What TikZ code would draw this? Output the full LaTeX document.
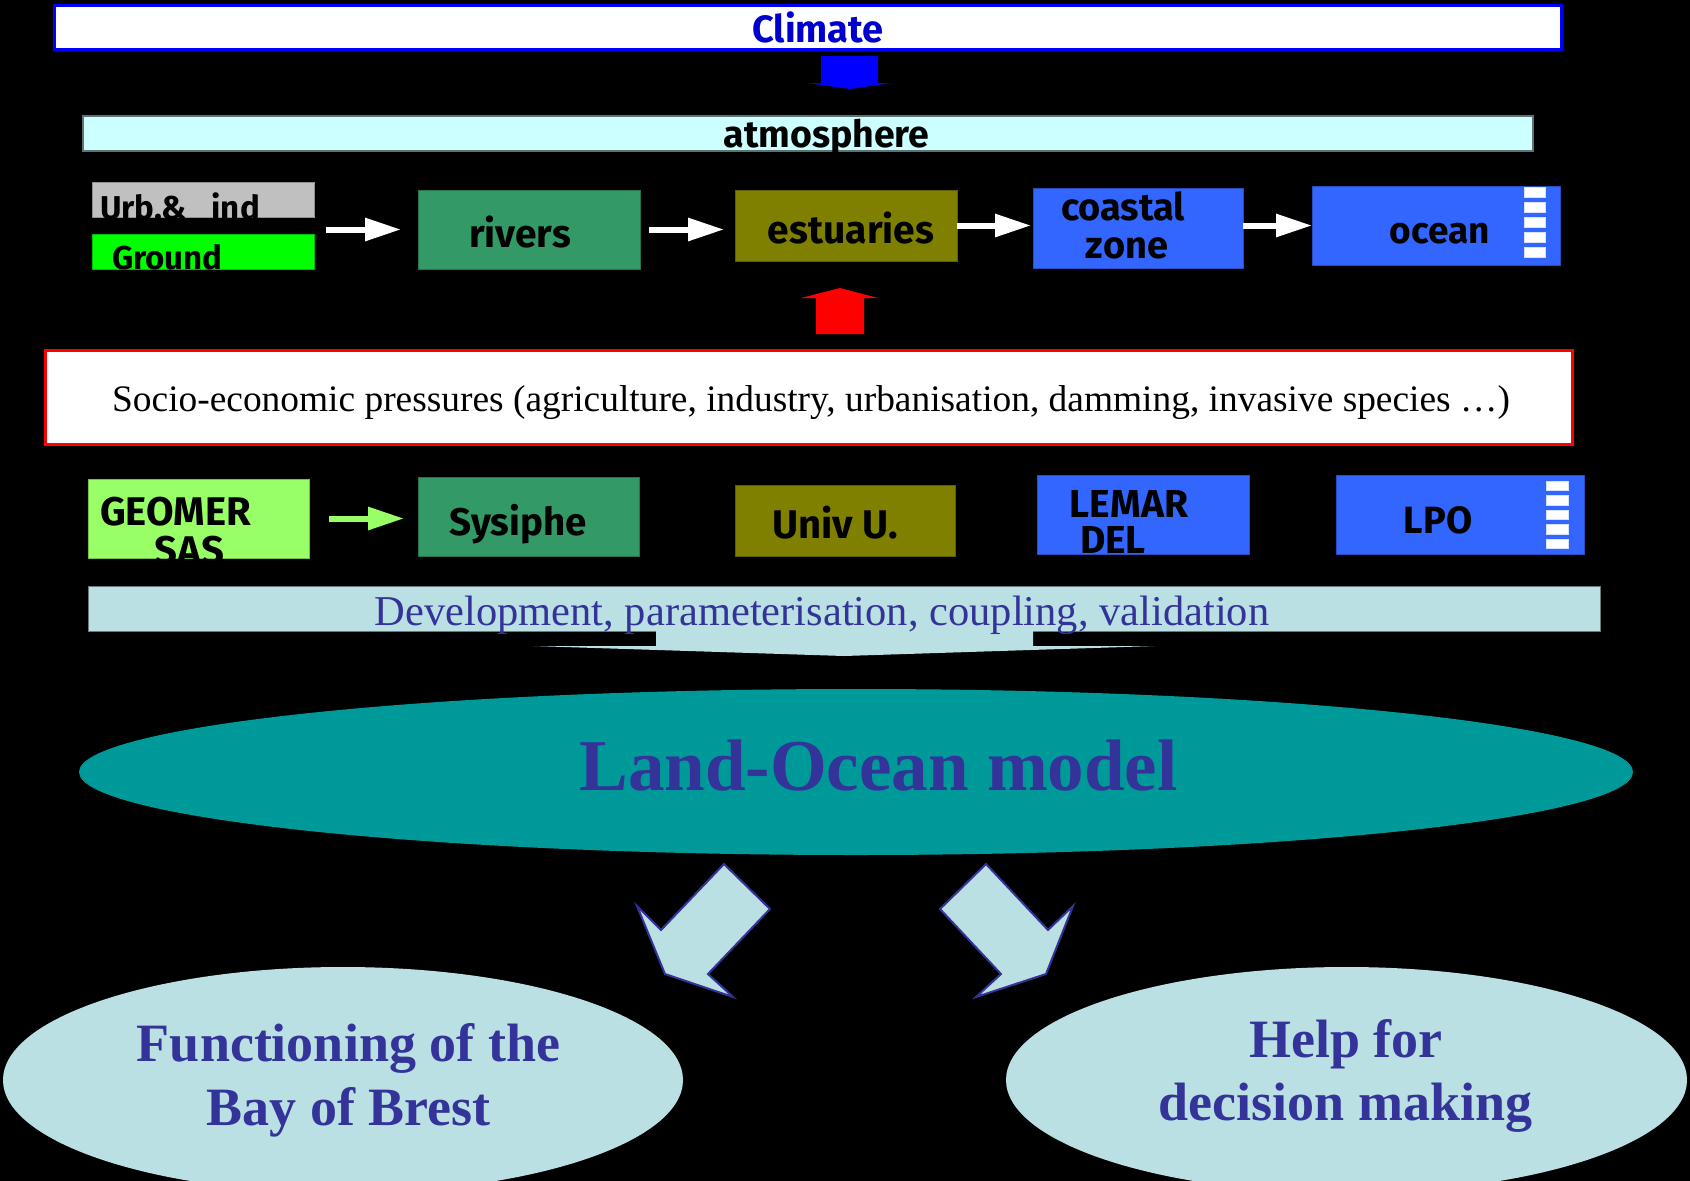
\documentclass[tikz,border=0pt]{standalone}
\usepackage{fontspec}
\setmainfont{Liberation Serif}
\newfontfamily\comic{Fira Sans}
\usetikzlibrary{arrows.meta,calc,shapes.geometric}

\definecolor{climblue}{HTML}{0000FF}
\definecolor{climtext}{HTML}{0000CC}
\definecolor{atmosfill}{HTML}{CCFFFF}
\definecolor{urbgray}{HTML}{C0C0C0}
\definecolor{groundgreen}{HTML}{00FF00}
\definecolor{rivergreen}{HTML}{339966}
\definecolor{estolive}{HTML}{808000}
\definecolor{seablue}{HTML}{3366FF}
\definecolor{limegreen}{HTML}{99FF66}
\definecolor{paleblue}{HTML}{BBE0E3}
\definecolor{modelteal}{HTML}{009999}
\definecolor{inkblue}{HTML}{333399}
\definecolor{pressred}{HTML}{FF0000}

\tikzset{
  panel/.style={rectangle, inner sep=0pt, outer sep=0pt},
  cell/.style={panel, draw=#1!75!black, line width=1pt, fill=#1},
  comictext/.style={anchor=base, inner sep=0pt, outer sep=0pt, text=black,
    font=\comic\bfseries\fontsize{#1}{#1}\selectfont},
  capsonly/.style={text height=27pt, text depth=0pt},
  serifbold/.style={anchor=base, inner sep=0pt, outer sep=0pt, text=inkblue,
    font=\bfseries\fontsize{#1}{#1}\selectfont},
  serifplain/.style={anchor=base, inner sep=0pt, outer sep=0pt,
    font=\fontsize{#1}{#1}\selectfont},
  flow/.style={draw=white, line width=6pt, -{Triangle[length=36pt,width=22pt]}},
  blockarrow/.style={fill=paleblue, draw=inkblue, line width=2pt, line join=miter},
  levels/.style={fill=white, draw=white!80!seablue, line width=0.6pt},
}

\begin{document}
\begin{tikzpicture}[x=1pt,y=-1pt]
  % page
  \fill[black] (0,0) rectangle (1690,1181);
  \useasboundingbox (0,0) rectangle (1690,1181);
  \clip (0,0) rectangle (1690,1181);

  % ---- climate forcing ----
  \node[panel, fill=white, draw=climblue, line width=3pt,
        minimum width=1507pt, minimum height=44pt] (climate) at (807.5,27) {};
  \node[comictext=38, text=climtext] (tclimate) at (818,42) {Climate};

  \fill[climblue] (821,56) -- (878,56) -- (878,83) -- (892,83) -- (850,89)
                  -- (807,83) -- (821,83) -- cycle;

  \node[panel, fill=atmosfill, draw=black!55!atmosfill, line width=1.5pt,
        minimum width=1450pt, minimum height=35pt] (atmos) at (808,133.5) {};
  \node[comictext=37.5] (tatmos) at (826.5,147) {atmosphere};

  % ---- the land--ocean continuum ----
  \node[cell=urbgray, minimum width=222pt, minimum height=35pt] (urb) at (203,199.5) {};
  \node[cell=groundgreen, minimum width=222pt, minimum height=35pt] (ground) at (203,251.5) {};
  \begin{scope}
    \clip (urb.north west) rectangle (urb.south east);
    \node[comictext=33, anchor=base west] (turb) at (100,219) {Urb.\&\_ ind};
  \end{scope}
  \begin{scope}
    \clip (ground.north west) rectangle (ground.south east);
    \node[comictext=33, anchor=base west] (tground) at (112,269) {Ground};
  \end{scope}

  \node[cell=rivergreen, minimum width=222pt, minimum height=79pt] (rivers) at (529,229.5) {};
  \node[comictext=39] (trivers) at (520,247) {rivers};

  \node[cell=estolive, minimum width=222pt, minimum height=71pt] (estuaries) at (846,225.5) {};
  \node[comictext=39] (testuaries) at (851,243) {estuaries};

  \node[cell=seablue, minimum width=210pt, minimum height=80pt] (coastal) at (1138,228) {};
  \node[comictext=38] (tcoastal) at (1123,220) {coastal};
  \node[comictext=38] (tzone) at (1127,258) {zone};

  \node[cell=seablue, minimum width=248pt, minimum height=79pt] (ocean) at (1436,225.5) {};
  \node[comictext=37] (tocean) at (1440,243) {ocean};
  \foreach \k in {0,...,4}
    \path[levels] (1524,187+15*\k) rectangle (1545,197+15*\k);

  \draw[flow, shorten <=12pt, shorten >=17pt] (ground.east |- rivers.west) -- (rivers.west);
  \draw[flow, shorten <=9pt, shorten >=11pt] (rivers.east) -- (rivers.east -| estuaries.west);
  \draw[flow, shorten >=2pt] (estuaries.east) -- (estuaries.east -| coastal.west);
  \draw[flow] (ocean.west -| coastal.east) -- (ocean.west);

  % ---- pressures ----
  \fill[pressred] (816,334) -- (816,298) -- (801,298) -- (840,288) -- (878,298)
                  -- (864,298) -- (864,334) -- cycle;

  \node[panel, fill=white, draw=pressred, line width=3pt,
        minimum width=1527pt, minimum height=94pt] (socio) at (808.5,397) {};
  \node[serifplain=37.4] (tsocio) at (811,411)
    {Socio-economic pressures (agriculture, industry, urbanisation, damming, invasive species \dots)};

  % ---- partner laboratories ----
  \node[cell=limegreen, minimum width=221pt, minimum height=79pt] (geomer) at (198.5,518.5) {};
  \begin{scope}
    \clip (geomer.north west) rectangle (geomer.south east);
    \node[comictext=40, capsonly, anchor=base west] (tgeomer) at (100,525) {GEOMER};
    \node[comictext=40, capsonly] (tsas) at (189.5,564) {SAS};
  \end{scope}

  \node[cell=rivergreen, minimum width=221pt, minimum height=79pt] (sysiphe) at (528.5,516.5) {};
  \node[comictext=38.5] (tsysiphe) at (518,535) {Sysiphe};

  \node[cell=estolive, minimum width=220pt, minimum height=71pt] (univ) at (845,520.5) {};
  \node[comictext=40] (tuniv) at (835,538) {Univ U.};

  \node[cell=seablue, minimum width=212pt, minimum height=79pt] (lemar) at (1143,514.5) {};
  \node[comictext=39, capsonly] (tlemar) at (1129,517) {LEMAR};
  \node[comictext=39, capsonly] (tdel) at (1113,553) {DEL};

  \node[cell=seablue, minimum width=248pt, minimum height=79pt] (lpo) at (1460,514.5) {};
  \node[comictext=38] (tlpo) at (1438,533) {LPO};
  \foreach \k in {0,...,4}
    \path[levels] (1546,481+14.5*\k) rectangle (1568,490.5+14.5*\k);

  \draw[flow, draw=limegreen, shorten <=20pt, shorten >=14pt] (geomer.east) -- (geomer.east -| sysiphe.west);

  % ---- development bar and its arrow ----
  \node[panel, fill=paleblue, draw=black!45!paleblue, line width=1pt,
        minimum width=1512pt, minimum height=45pt] (dev) at (844,608.5) {};
  \fill[paleblue] (656,630) -- (656,646) -- (533,646) -- (844,656) -- (1155,646)
                  -- (1033,646) -- (1033,630) -- cycle;
  \node[serifplain=42.5, text=inkblue] (tdev) at (822,625)
    {Development, parameterisation, coupling, validation};

  % ---- the model ----
  \node[ellipse, fill=modelteal, inner sep=0pt, minimum width=1554pt, minimum height=166pt] (model) at (856,772) {};
  \node[serifbold=73] (tmodel) at (878.5,790) {Land-Ocean model};

  % ---- outcomes ----
  \path[blockarrow] (724,864) -- (770,909) -- (708,974) -- (733,997) -- (665,974)
                    -- (637,906) -- (661,930) -- cycle;
  \path[blockarrow] (986,864) -- (940,909) -- (1001,974) -- (976,997) -- (1046,974)
                    -- (1073,906) -- (1048,930) -- cycle;

  \node[ellipse, fill=paleblue, inner sep=0pt, minimum width=680pt, minimum height=226pt] (bay) at (343,1080) {};
  \node[serifbold=54] (tbay1) at (348.5,1061) {Functioning of the};
  \node[serifbold=54] (tbay2) at (348.5,1125) {Bay of Brest};

  \node[ellipse, fill=paleblue, inner sep=0pt, minimum width=681pt, minimum height=226pt] (help) at (1346.5,1080) {};
  \node[serifbold=54] (thelp1) at (1346,1057) {Help for};
  \node[serifbold=54] (thelp2) at (1345.5,1120) {decision making};
\end{tikzpicture}
\end{document}
